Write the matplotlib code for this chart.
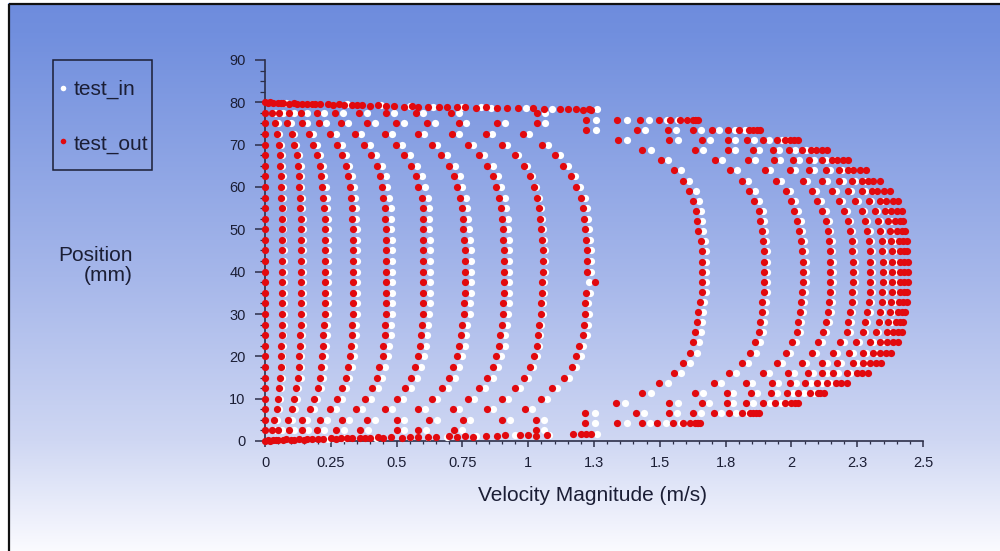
import numpy as np
import matplotlib
matplotlib.use("Agg")
import matplotlib.pyplot as plt
from matplotlib.patches import Rectangle
from matplotlib.ticker import MultipleLocator, FixedLocator, FixedFormatter

# ---------------------------------------------------------------- data
# sample positions (mm) of the slower profiles, top to bottom
pos_left = [77.5, 75.0, 72.5, 70.0, 67.5, 65.0, 62.5, 60.0, 57.5, 55.0, 52.5,
            50.0, 47.5, 45.0, 42.5, 40.0, 37.5, 35.0, 32.5, 30.0, 27.5, 25.0,
            22.5, 20.0, 17.5, 15.0, 12.5, 10.0, 7.5, 5.0, 2.5]
# sample positions (mm) of the faster profiles, top to bottom
pos_right = [75.85, 73.46, 71.07, 68.68, 66.29, 63.90, 61.51, 59.12, 56.73,
             54.34, 51.95, 49.56, 47.17, 44.78, 42.39, 40.00, 37.61, 35.22,
             32.83, 30.44, 28.05, 25.66, 23.27, 20.88, 18.49, 16.10, 13.71,
             11.32, 8.93, 6.54, 4.15]

# test_out velocity profiles (m/s) on pos_left
out_p0 = [0.0, 0.0, 0.0, 0.0, 0.0, 0.0, 0.0, 0.0, 0.0, 0.0, 0.0, 0.0, 0.0, 0.0, 0.0, 0.0,
          0.0, 0.0, 0.0, 0.0, 0.0, 0.0, 0.0, 0.0, 0.0, 0.0, 0.0, 0.0, 0.0, 0.0, 0.0]
out_p1 = [0.025, 0.038, 0.044, 0.053, 0.057, 0.057, 0.061, 0.061, 0.061, 0.063, 0.063, 0.063, 0.063, 0.066, 0.066, 0.066,
          0.066, 0.066, 0.066, 0.066, 0.066, 0.063, 0.061, 0.060, 0.060, 0.057, 0.054, 0.051, 0.047, 0.035, 0.025]
out_p2 = [0.054, 0.085, 0.101, 0.111, 0.120, 0.127, 0.130, 0.130, 0.133, 0.133, 0.136, 0.136, 0.137, 0.137, 0.137, 0.137,
          0.137, 0.137, 0.137, 0.137, 0.137, 0.134, 0.134, 0.130, 0.130, 0.127, 0.117, 0.111, 0.104, 0.086, 0.051]
out_p3 = [0.092, 0.139, 0.167, 0.184, 0.196, 0.209, 0.213, 0.218, 0.222, 0.224, 0.228, 0.228, 0.228, 0.228, 0.228, 0.228,
          0.228, 0.228, 0.228, 0.228, 0.225, 0.222, 0.219, 0.215, 0.213, 0.209, 0.200, 0.186, 0.171, 0.139, 0.092]
out_p4 = [0.136, 0.206, 0.247, 0.275, 0.291, 0.306, 0.314, 0.323, 0.327, 0.332, 0.332, 0.333, 0.333, 0.336, 0.336, 0.336,
          0.336, 0.336, 0.336, 0.333, 0.329, 0.329, 0.325, 0.323, 0.314, 0.306, 0.291, 0.275, 0.247, 0.209, 0.139]
out_p5 = [0.196, 0.287, 0.342, 0.376, 0.401, 0.424, 0.437, 0.443, 0.450, 0.456, 0.456, 0.458, 0.460, 0.460, 0.460, 0.460,
          0.460, 0.460, 0.460, 0.460, 0.456, 0.456, 0.450, 0.447, 0.434, 0.424, 0.407, 0.380, 0.346, 0.291, 0.196]
out_p6 = [0.266, 0.386, 0.456, 0.498, 0.528, 0.555, 0.572, 0.583, 0.595, 0.599, 0.599, 0.599, 0.602, 0.602, 0.602, 0.602,
          0.602, 0.602, 0.602, 0.599, 0.595, 0.593, 0.589, 0.580, 0.570, 0.555, 0.532, 0.500, 0.456, 0.386, 0.270]
out_p7 = [0.358, 0.498, 0.580, 0.633, 0.669, 0.700, 0.718, 0.728, 0.741, 0.747, 0.751, 0.754, 0.757, 0.760, 0.760, 0.760,
          0.760, 0.760, 0.757, 0.756, 0.747, 0.743, 0.738, 0.728, 0.716, 0.700, 0.674, 0.633, 0.583, 0.500, 0.361]
out_p8 = [0.460, 0.617, 0.712, 0.770, 0.813, 0.845, 0.865, 0.878, 0.890, 0.895, 0.902, 0.903, 0.906, 0.908, 0.908, 0.908,
          0.908, 0.908, 0.906, 0.903, 0.899, 0.893, 0.890, 0.878, 0.865, 0.845, 0.814, 0.773, 0.713, 0.624, 0.500]
out_p9 = [0.572, 0.738, 0.840, 0.902, 0.950, 0.984, 1.007, 1.022, 1.032, 1.040, 1.045, 1.049, 1.052, 1.055, 1.055, 1.057,
          1.052, 1.052, 1.049, 1.047, 1.042, 1.038, 1.032, 1.022, 1.007, 0.984, 0.950, 0.902, 0.845, 0.754, 0.583]
out_p10 = [0.707, 0.880, 0.979, 1.054, 1.102, 1.133, 1.163, 1.182, 1.199, 1.207, 1.212, 1.216, 1.220, 1.224, 1.224, 1.225,
           1.252, 1.220, 1.214, 1.216, 1.212, 1.209, 1.194, 1.182, 1.165, 1.136, 1.089, 1.049, 0.988, 0.902, 0.718]

# test_in velocity profiles (m/s) on pos_left
in_p1 = [0.037, 0.050, 0.052, 0.059, 0.063, 0.063, 0.067, 0.067, 0.067, 0.069, 0.069, 0.069, 0.069, 0.072, 0.072, 0.072,
         0.072, 0.072, 0.072, 0.072, 0.072, 0.069, 0.067, 0.066, 0.066, 0.063, 0.060, 0.057, 0.055, 0.047, 0.037]
in_p2 = [0.069, 0.100, 0.111, 0.119, 0.128, 0.135, 0.138, 0.138, 0.141, 0.141, 0.144, 0.144, 0.145, 0.145, 0.145, 0.145,
         0.145, 0.145, 0.145, 0.145, 0.145, 0.142, 0.142, 0.138, 0.138, 0.135, 0.125, 0.121, 0.114, 0.101, 0.066]
in_p3 = [0.112, 0.159, 0.182, 0.197, 0.208, 0.221, 0.225, 0.230, 0.234, 0.236, 0.240, 0.240, 0.240, 0.240, 0.240, 0.240,
         0.240, 0.240, 0.240, 0.240, 0.237, 0.234, 0.231, 0.227, 0.225, 0.221, 0.212, 0.199, 0.186, 0.159, 0.112]
in_p4 = [0.161, 0.231, 0.268, 0.292, 0.306, 0.321, 0.329, 0.338, 0.342, 0.347, 0.347, 0.348, 0.348, 0.351, 0.351, 0.351,
         0.351, 0.351, 0.351, 0.348, 0.344, 0.344, 0.340, 0.338, 0.329, 0.321, 0.306, 0.292, 0.268, 0.234, 0.164]
in_p5 = [0.226, 0.317, 0.366, 0.398, 0.423, 0.446, 0.459, 0.465, 0.472, 0.478, 0.478, 0.480, 0.482, 0.482, 0.482, 0.482,
         0.482, 0.482, 0.482, 0.482, 0.478, 0.478, 0.472, 0.469, 0.456, 0.446, 0.429, 0.402, 0.370, 0.321, 0.226]
in_p6 = [0.298, 0.418, 0.482, 0.522, 0.552, 0.579, 0.596, 0.607, 0.619, 0.623, 0.623, 0.623, 0.626, 0.626, 0.626, 0.626,
         0.626, 0.626, 0.626, 0.623, 0.619, 0.617, 0.613, 0.604, 0.594, 0.579, 0.556, 0.524, 0.482, 0.418, 0.302]
in_p7 = [0.388, 0.528, 0.604, 0.655, 0.691, 0.722, 0.740, 0.750, 0.763, 0.769, 0.773, 0.776, 0.779, 0.782, 0.782, 0.782,
         0.782, 0.782, 0.779, 0.778, 0.769, 0.765, 0.760, 0.750, 0.738, 0.722, 0.696, 0.655, 0.607, 0.530, 0.391]
in_p8 = [0.490, 0.647, 0.736, 0.790, 0.833, 0.865, 0.885, 0.898, 0.910, 0.915, 0.922, 0.923, 0.926, 0.928, 0.928, 0.928,
         0.928, 0.928, 0.926, 0.923, 0.919, 0.913, 0.910, 0.898, 0.885, 0.865, 0.834, 0.793, 0.737, 0.654, 0.530]
in_p9 = [0.602, 0.763, 0.862, 0.920, 0.962, 0.994, 1.015, 1.030, 1.040, 1.048, 1.053, 1.057, 1.060, 1.063, 1.063, 1.065,
         1.060, 1.060, 1.057, 1.055, 1.050, 1.046, 1.042, 1.034, 1.019, 0.998, 0.968, 0.922, 0.867, 0.779, 0.613]
in_p10 = [0.737, 0.910, 1.004, 1.075, 1.120, 1.150, 1.179, 1.197, 1.214, 1.222, 1.227, 1.231, 1.235, 1.239, 1.239, 1.240,
          1.230, 1.235, 1.229, 1.231, 1.227, 1.224, 1.210, 1.199, 1.182, 1.155, 1.110, 1.072, 1.013, 0.930, 0.748]

# test_out velocity profiles (m/s) on pos_right
out_r1 = [1.220, 1.220, 1.340, 1.434, 1.503, 1.554, 1.587, 1.612, 1.627, 1.636, 1.640, 1.646, 1.655, 1.659, 1.662, 1.662,
          1.662, 1.659, 1.652, 1.646, 1.640, 1.634, 1.628, 1.615, 1.588, 1.554, 1.497, 1.431, 1.334, 1.216, 1.216]
out_r2 = [1.339, 1.412, 1.536, 1.634, 1.710, 1.767, 1.811, 1.840, 1.858, 1.875, 1.881, 1.887, 1.891, 1.894, 1.896, 1.896,
          1.896, 1.894, 1.890, 1.887, 1.881, 1.877, 1.862, 1.843, 1.814, 1.763, 1.706, 1.634, 1.536, 1.410, 1.339]
out_r3 = [1.425, 1.532, 1.662, 1.760, 1.837, 1.900, 1.942, 1.978, 1.998, 2.011, 2.023, 2.030, 2.036, 2.040, 2.043, 2.043,
          2.043, 2.040, 2.036, 2.031, 2.026, 2.020, 2.004, 1.978, 1.944, 1.893, 1.826, 1.754, 1.659, 1.536, 1.431]
out_r4 = [1.497, 1.628, 1.760, 1.853, 1.935, 1.995, 2.043, 2.077, 2.099, 2.118, 2.130, 2.138, 2.144, 2.145, 2.147, 2.147,
          2.147, 2.145, 2.143, 2.140, 2.130, 2.121, 2.102, 2.077, 2.039, 1.988, 1.925, 1.845, 1.754, 1.627, 1.490]
out_r5 = [1.539, 1.700, 1.833, 1.929, 2.007, 2.068, 2.118, 2.155, 2.182, 2.201, 2.214, 2.223, 2.229, 2.230, 2.233, 2.233,
          2.233, 2.230, 2.229, 2.222, 2.216, 2.210, 2.185, 2.157, 2.115, 2.062, 1.995, 1.921, 1.826, 1.706, 1.551]
out_r6 = [1.575, 1.760, 1.893, 1.992, 2.068, 2.131, 2.182, 2.216, 2.242, 2.267, 2.280, 2.289, 2.296, 2.297, 2.299, 2.299,
          2.298, 2.297, 2.296, 2.289, 2.280, 2.271, 2.246, 2.220, 2.172, 2.115, 2.053, 1.982, 1.891, 1.763, 1.590]
out_r7 = [1.605, 1.800, 1.944, 2.039, 2.118, 2.182, 2.229, 2.270, 2.293, 2.317, 2.330, 2.337, 2.344, 2.345, 2.347, 2.347,
          2.347, 2.345, 2.344, 2.337, 2.331, 2.322, 2.299, 2.273, 2.235, 2.159, 2.098, 2.026, 1.938, 1.811, 1.615]
out_r8 = [1.625, 1.840, 1.975, 2.075, 2.155, 2.215, 2.270, 2.305, 2.337, 2.355, 2.368, 2.374, 2.380, 2.381, 2.383, 2.383,
          2.383, 2.381, 2.380, 2.375, 2.368, 2.362, 2.337, 2.311, 2.273, 2.210, 2.134, 2.071, 1.976, 1.843, 1.634]
out_r9 = [1.635, 1.855, 1.995, 2.095, 2.175, 2.235, 2.290, 2.325, 2.360, 2.380, 2.395, 2.402, 2.408, 2.411, 2.412, 2.412,
          2.412, 2.411, 2.408, 2.404, 2.397, 2.385, 2.365, 2.337, 2.300, 2.250, 2.170, 2.100, 2.000, 1.855, 1.640]
out_r10 = [1.640, 1.868, 2.010, 2.115, 2.195, 2.260, 2.310, 2.350, 2.385, 2.400, 2.412, 2.420, 2.425, 2.427, 2.428, 2.428,
           2.428, 2.427, 2.425, 2.420, 2.412, 2.405, 2.385, 2.360, 2.322, 2.270, 2.190, 2.110, 2.013, 1.866, 1.645]
out_r11 = [1.645, 1.880, 2.025, 2.135, 2.215, 2.285, 2.335, 2.375, 2.405, 2.419, 2.425, 2.431, 2.440, 2.441, 2.442, 2.442,
           2.442, 2.441, 2.440, 2.433, 2.425, 2.420, 2.404, 2.380, 2.340, 2.290, 2.210, 2.122, 2.025, 1.878, 1.652]

# test_in velocity profiles (m/s) on pos_right
in_r1 = [1.256, 1.256, 1.375, 1.468, 1.533, 1.582, 1.612, 1.636, 1.650, 1.657, 1.660, 1.664, 1.671, 1.674, 1.676, 1.676,
         1.676, 1.674, 1.668, 1.664, 1.660, 1.655, 1.650, 1.640, 1.614, 1.582, 1.530, 1.465, 1.369, 1.252, 1.252]
in_r2 = [1.377, 1.442, 1.568, 1.664, 1.737, 1.792, 1.834, 1.861, 1.876, 1.891, 1.896, 1.901, 1.904, 1.906, 1.908, 1.908,
         1.908, 1.906, 1.903, 1.901, 1.896, 1.893, 1.880, 1.864, 1.837, 1.788, 1.733, 1.664, 1.568, 1.440, 1.377]
in_r3 = [1.458, 1.562, 1.690, 1.786, 1.860, 1.920, 1.960, 1.994, 2.012, 2.024, 2.035, 2.042, 2.048, 2.052, 2.055, 2.055,
         2.055, 2.052, 2.048, 2.043, 2.038, 2.033, 2.019, 1.995, 1.963, 1.914, 1.850, 1.780, 1.688, 1.566, 1.464]
in_r4 = [1.528, 1.656, 1.786, 1.876, 1.956, 2.014, 2.060, 2.092, 2.112, 2.130, 2.141, 2.148, 2.154, 2.155, 2.157, 2.157,
         2.157, 2.155, 2.153, 2.151, 2.141, 2.133, 2.117, 2.093, 2.057, 2.008, 1.948, 1.870, 1.780, 1.655, 1.522]
in_r5 = [1.568, 1.726, 1.857, 1.951, 2.027, 2.086, 2.134, 2.169, 2.194, 2.212, 2.224, 2.232, 2.238, 2.239, 2.242, 2.242,
         2.242, 2.239, 2.238, 2.231, 2.226, 2.221, 2.199, 2.173, 2.134, 2.083, 2.018, 1.946, 1.853, 1.734, 1.582]
in_r6 = [1.603, 1.784, 1.915, 2.012, 2.086, 2.147, 2.196, 2.228, 2.253, 2.276, 2.288, 2.297, 2.304, 2.305, 2.307, 2.307,
         2.306, 2.305, 2.304, 2.297, 2.288, 2.280, 2.258, 2.234, 2.190, 2.135, 2.075, 2.006, 1.917, 1.790, 1.620]
in_r7 = [1.630, 1.822, 1.963, 2.056, 2.132, 2.194, 2.240, 2.280, 2.302, 2.325, 2.337, 2.344, 2.351, 2.352, 2.354, 2.354,
         2.354, 2.352, 2.351, 2.344, 2.338, 2.330, 2.309, 2.285, 2.250, 2.178, 2.118, 2.048, 1.962, 1.836, 1.642]
in_r8 = [1.640, 1.855, 1.988, 2.087, 2.166, 2.226, 2.280, 2.315, 2.346, 2.364, 2.377, 2.383, 2.389, 2.390, 2.392, 2.392,
         2.392, 2.390, 2.389, 2.384, 2.377, 2.371, 2.347, 2.322, 2.285, 2.223, 2.148, 2.085, 1.990, 1.858, 1.650]

# near-wall points (velocity, position)
out_wall_top_v = [0.00, 0.01, 0.02, 0.03, 0.05, 0.06, 0.07, 0.09, 0.11, 0.12, 0.14, 0.16, 0.18, 0.19, 0.21, 0.24,
                  0.26, 0.28, 0.30, 0.33, 0.35, 0.37, 0.40, 0.43, 0.46, 0.49, 0.53, 0.56, 0.58, 0.62, 0.66, 0.69,
                  0.73, 0.76, 0.80, 0.84, 0.88, 0.92, 0.96, 1.02, 1.06, 1.12, 1.15, 1.18, 1.21, 1.23, 1.24]
out_wall_top_y = [80.0, 79.9, 80.0, 79.8, 79.9, 79.8, 79.9, 79.7, 79.8, 79.7, 79.6, 79.7, 79.6, 79.6, 79.5, 79.6,
                  79.4, 79.5, 79.4, 79.3, 79.4, 79.3, 79.2, 79.3, 79.1, 79.2, 79.0, 79.1, 78.9, 79.0, 79.0, 78.8,
                  78.9, 78.8, 78.7, 78.8, 78.6, 78.7, 78.6, 78.7, 78.5, 78.5, 78.4, 78.4, 78.3, 78.4, 78.3]
out_wall_bot_v = [0.00, 0.01, 0.02, 0.03, 0.04, 0.05, 0.07, 0.08, 0.10, 0.11, 0.13, 0.15, 0.16, 0.18, 0.20, 0.22,
                  0.25, 0.27, 0.29, 0.31, 0.33, 0.36, 0.38, 0.40, 0.43, 0.45, 0.48, 0.52, 0.55, 0.58, 0.62, 0.65,
                  0.70, 0.73, 0.76, 0.79, 0.84, 0.88, 0.91, 0.97, 1.00, 1.03, 1.07, 1.17, 1.20, 1.22, 1.24]
out_wall_bot_y = [0.1, 0.2, 0.1, 0.3, 0.2, 0.3, 0.2, 0.4, 0.3, 0.3, 0.4, 0.3, 0.5, 0.4, 0.5, 0.4,
                  0.6, 0.5, 0.7, 0.6, 0.6, 0.8, 0.7, 0.7, 0.9, 0.8, 0.9, 0.8, 1.0, 0.9, 1.0, 0.9,
                  1.1, 1.0, 1.2, 1.0, 1.2, 1.1, 1.3, 1.3, 1.4, 1.2, 1.5, 1.6, 1.6, 1.7, 1.6]
in_wall_top_v = [0.08, 0.18, 0.31, 0.44, 0.55, 0.64, 0.75, 0.82, 0.86, 0.99, 1.09, 1.26]
in_wall_top_y = [79.8, 79.6, 79.5, 79.3, 79.1, 79.0, 78.9, 78.8, 78.7, 78.6, 78.5, 78.4]
in_wall_bot_v = [0.06, 0.24, 0.30, 0.42, 0.55, 0.62, 0.69, 0.80, 0.95, 1.08, 1.26]
in_wall_bot_y = [0.2, 0.5, 0.6, 0.8, 0.9, 1.0, 1.0, 1.1, 1.3, 1.4, 1.7]

# isolated points close to the walls
out_extra_v = [1.035, 1.035, 1.030, 1.030]
out_extra_y = [77.5, 75.0, 5.0, 2.5]
in_extra_v = [1.065, 1.065, 1.060, 1.060]
in_extra_y = [77.5, 75.0, 5.0, 2.5]

x_ticks = [0, 0.25, 0.5, 0.75, 1.0, 1.25, 1.5, 1.75, 2.0, 2.25, 2.5]
x_tick_labels = ["0", "0.25", "0.5", "0.75", "1", "1.3", "1.5", "1.8", "2", "2.3", "2.5"]
y_ticks = [0, 10, 20, 30, 40, 50, 60, 70, 80, 90]

# ---------------------------------------------------------------- assemble
out_left = [out_p0, out_p1, out_p2, out_p3, out_p4, out_p5, out_p6, out_p7, out_p8, out_p9, out_p10]
in_left = [in_p1, in_p2, in_p3, in_p4, in_p5, in_p6, in_p7, in_p8, in_p9, in_p10]
out_right = [out_r1, out_r2, out_r3, out_r4, out_r5, out_r6, out_r7, out_r8, out_r9, out_r10, out_r11]
in_right = [in_r1, in_r2, in_r3, in_r4, in_r5, in_r6, in_r7, in_r8]

for prof in out_left + in_left:
    assert len(prof) == len(pos_left)
for prof in out_right + in_right:
    assert len(prof) == len(pos_right)


def gather(left, right, wall_v, wall_y, extra_v, extra_y):
    vx, py = [], []
    for prof in left:
        vx += prof
        py += pos_left
    for prof in right:
        vx += prof
        py += pos_right
    vx += list(wall_v) + list(extra_v)
    py += list(wall_y) + list(extra_y)
    return np.array(vx), np.array(py)


in_x, in_y = gather(in_left, in_right, in_wall_top_v + in_wall_bot_v,
                    in_wall_top_y + in_wall_bot_y, in_extra_v, in_extra_y)
out_x, out_y = gather(out_left, out_right, out_wall_top_v + out_wall_bot_v,
                      out_wall_top_y + out_wall_bot_y, out_extra_v, out_extra_y)

# ---------------------------------------------------------------- styling
plt.rcParams['font.family'] = ['Liberation Sans', 'DejaVu Sans']
W, H = 1000, 551
RED = '#e2090e'
INK = '#1b1e35'
AXC = '#2c2e48'

fig = plt.figure(figsize=(W / 100, H / 100), dpi=100)

# vertical blue-to-white backdrop drawn in pixel units
bg = fig.add_axes([0, 0, 1, 1], zorder=0)
bg.set_xlim(0, W)
bg.set_ylim(H, 0)
bg.set_axis_off()
rows = np.arange(H)
stops_y = [0, 30, 275, 440, 551]
stops_c = np.array([[110, 140, 221], [113, 143, 222], [166, 183, 234],
                    [207, 215, 243], [251, 251, 255]]) / 255.0
grad = np.stack([np.interp(rows, stops_y, stops_c[:, i]) for i in range(3)], axis=1)
bg.imshow(grad[:, None, :], extent=(8, W, H, 3), aspect='auto', interpolation='bilinear')
bg.plot([8.5, 8.5], [3.5, H], color='#111111', lw=1.6, solid_capstyle='butt')
bg.plot([8.5, W], [3.5, 3.5], color='#111111', lw=1.6, solid_capstyle='butt')

# legend box
bg.add_patch(Rectangle((53, 60), 99, 110, fill=False, edgecolor=INK, lw=1.1))
bg.scatter([62.7], [87.7], s=16, color='white', linewidths=0)
bg.scatter([62.7], [140.7], s=16, color=RED, linewidths=0)
bg.text(73.5, 95, "test_in", fontsize=15, color=INK, ha='left', va='baseline')
bg.text(73.5, 149.3, "test_out", fontsize=15, color=INK, ha='left', va='baseline')

# axis titles
bg.text(133, 261, "Position", fontsize=15, color=INK, ha='right', va='baseline')
bg.text(133, 281, "(mm)", fontsize=15, color=INK, ha='right', va='baseline')
bg.text(592.5, 501, "Velocity Magnitude (m/s)", fontsize=15, color=INK,
        ha='center', va='baseline')

# plotting area
ax = fig.add_axes([265 / W, 110 / H, 658 / W, 381 / H], zorder=1)
ax.patch.set_alpha(0)
ax.set_xlim(0, 2.5)
ax.set_ylim(0, 90)
for side in ('top', 'right'):
    ax.spines[side].set_visible(False)
for side in ('left', 'bottom'):
    ax.spines[side].set_color(AXC)
    ax.spines[side].set_linewidth(1.2)

ax.xaxis.set_major_locator(FixedLocator(x_ticks))
ax.xaxis.set_major_formatter(FixedFormatter(x_tick_labels))
ax.xaxis.set_minor_locator(MultipleLocator(0.05))
ax.yaxis.set_major_locator(FixedLocator(y_ticks))
ax.yaxis.set_minor_locator(MultipleLocator(2.5))
ax.tick_params(axis='x', which='major', direction='out', length=4, width=1.1,
               color=AXC, labelsize=10.5, labelcolor=INK, pad=7)
ax.tick_params(axis='x', which='minor', direction='out', length=2.5, width=0.9, color=AXC)
ax.tick_params(axis='y', which='major', direction='out', length=7, width=1.1,
               color=AXC, labelsize=10.5, labelcolor=INK, pad=7)
ax.tick_params(axis='y', which='minor', direction='out', length=3.6, width=0.9, color=AXC)

ax.scatter(in_x, in_y, s=27, color='white', linewidths=0, clip_on=False, zorder=3)
ax.scatter(out_x, out_y, s=27, color=RED, linewidths=0, clip_on=False, zorder=4)

fig.savefig("out.png", dpi=100)
